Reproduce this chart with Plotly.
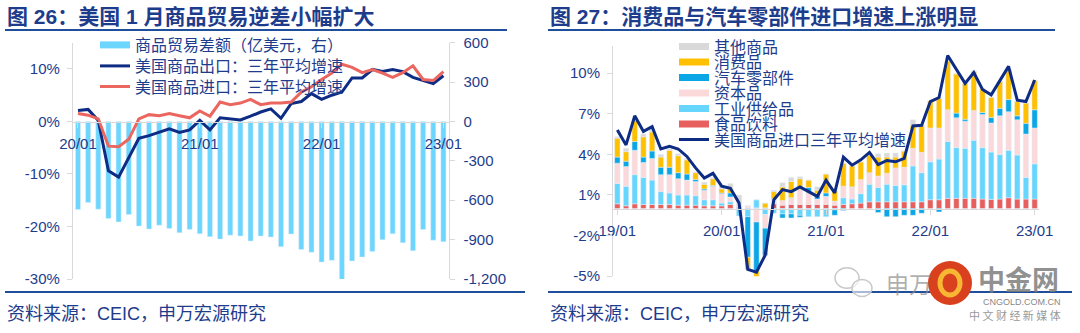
import plotly.graph_objects as go

W, H = 1080, 333
NAVY = "#1e3c8c"
FONT = "Liberation Sans, Noto Sans CJK SC"

# ---------------- Left panel data (2020/01 - 2023/01) ----------------
left_months = [f"{y:02d}/{m:02d}" for y in range(20, 24) for m in range(1, 13)][:37]
left_ticks = ["20/01", "21/01", "22/01", "23/01"]
trade_balance = [-671, -618, -668, -739, -765, -709, -797, -820, -790, -815, -848, -823,
                 -856, -878, -896, -866, -873, -911, -873, -881, -954, -858, -975, -997,
                 -1071, -1058, -1208, -1063, -1033, -990, -901, -856, -924, -985, -823, -904,
                 -916]
export_growth = [2.1, 2.3, 0.2, -9.4, -10.6, -6.9, -3.2, -2.7, -2.1, -1.4, -2.1, -1.6,
                 0.2, -1.6, 0.7, 0.5, 0.3, 1.0, 1.8, 2.4, 0.6, 3.4, 3.8, 5.3,
                 4.2, 5.0, 5.6, 8.3, 8.3, 9.9, 9.5, 9.9, 9.5, 8.4, 7.8, 7.2, 8.7]
import_growth = [1.5, 1.2, 0.5, -4.7, -4.8, -3.4, 0.5, 1.3, 1.1, 1.5, 1.1, 0.7,
                 2.0, 1.0, 3.7, 3.2, 3.5, 4.2, 3.2, 3.5, 3.5, 3.7, 5.6, 6.6,
                 8.0, 9.2, 10.9, 10.3, 9.3, 9.9, 9.2, 8.4, 9.3, 10.6, 8.0, 7.8, 9.5]
left_pct_vals = [-30, -20, -10, 0, 10]
left_pct_text = ["-30%", "-20%", "-10%", "0%", "10%"]
right_amt_vals = [-1200, -900, -600, -300, 0, 300, 600]
right_amt_text = ["-1,200", "-900", "-600", "-300", "0", "300", "600"]

# ---------------- Right panel data (2019/01 - 2023/01) ----------------
right_months = [f"{y:02d}/{m:02d}" for y in range(19, 24) for m in range(1, 13)][:49]
right_ticks = ["19/01", "20/01", "21/01", "22/01", "23/01"]
food = [0.35, 0.2, 0.35, 0.3, 0.3, 0.3, 0.3, 0.25, 0.25, 0.25, 0.2, 0.2,
        0.2, 0.3, 0.1, 0.05, 0.05, 0.05, 0.35, 0.25, 0.3, 0.3, 0.3, 0.3,
        0.3, 0.25, 0.3, 0.35, 0.4, 0.5, 0.5, 0.5, 0.5, 0.5, 0.5, 0.5,
        0.65, 0.65, 0.75, 0.75, 0.75, 0.75, 0.7, 0.67, 0.7, 0.8, 0.7, 0.7, 0.7]
industrial = [1.5, 1.45, 2.15, 2.0, 1.8, 0.95, 0.85, 0.75, 0.75, 0.7, 0.45, 0.45,
              0.2, 0.2, -0.55, -0.6, 0.6, -0.45, -0.35, -0.4, -0.4, -0.5, -0.6, -0.6,
              -0.6, -0.1, 0.5, 0.35, 0.7, 1.3, 1.05, 1.3, 1.2, 1.25, 2.65, 2.15,
              2.8, 3.0, 4.2, 3.75, 3.7, 4.3, 3.8, 3.5, 3.3, 3.5, 3.25, 1.6, 2.6]
capital = [1.5, 1.45, 1.8, 1.1, 1.6, 1.25, 1.35, 1.2, 1.1, 1.05, 0.7, 1.0,
           0.7, 0.35, 0.3, 0.15, -1.0, -1.0, 0.35, 0.35, 0.5, 1.1, 0.9, 0.4,
           0.6, 0.3, 0.85, 0.9, 1.05, 0.85, 0.85, 0.8, 1.3, 1.3, 1.3, 1.5,
           2.5, 2.3, 2.35, 2.2, 2.0, 2.2, 2.45, 2.15, 2.85, 2.85, 2.6, 3.2, 2.65]
autos = [0.45, 0.4, 0.65, 0.4, 0.55, 0.55, 0.55, 0.45, 0.45, 0.15, 0.1, 0.05,
         0.05, 0.3, 0.0, -3.0, -3.6, -2.0, 0.05, -0.3, -0.3, -0.15, 0.35, 0.4,
         0.25, -0.4, -0.15, 0.0, 0.0, 0.0, -0.3, -0.6, -0.6, -0.5, -0.5, -0.35,
         0.0, -0.25, 0.0, 0.35, 0.15, 0.0, 0.15, 0.4, 0.55, 0.9, 0.3, 0.8, 1.35]
consumer = [1.4, 0.7, 1.55, 1.5, 1.4, 0.75, 1.25, 1.25, 1.05, 0.5, 0.35, 0.5,
            0.3, 0.35, 0.0, -0.9, -0.5, 0.35, 0.5, 1.0, 1.2, 0.8, 0.55, 0.25,
            1.4, 0.75, 1.7, 1.55, 1.3, 1.3, 1.4, 1.2, 0.8, 1.2, 1.7, 2.0,
            2.0, 2.2, 3.6, 2.9, 2.65, 2.9, 1.75, 1.5, 2.0, 2.2, 1.05, 1.5, 2.15]
other = [0.1, 0.25, 0.15, 0.2, 0.2, 0.2, 0.1, 0.15, 0.1, 0.05, 0.15, 0.1,
         0.25, 0.35, 0.6, 0.0, 0.0, 0.0, 0.1, 0.3, 0.3, 0.15, 0.0, 0.25,
         0.0, 0.0, 0.0, 0.0, 0.0, 0.0, 0.25, 0.3, 0.3, 0.0, 0.4, 0.0,
         0.0, 0.0, 0.0, 0.0, 0.0, 0.0, 0.0, 0.0, 0.0, 0.0, 0.0, 0.0, 0.0]
imports_3y = [5.8, 4.7, 6.85, 5.7, 6.05, 4.4, 4.6, 4.4, 3.85, 3.0, 2.25, 2.6,
              1.65, 1.5, 0.4, -4.5, -4.7, -3.45, 0.65, 1.4, 1.25, 1.6, 1.25, 0.9,
              2.1, 1.15, 3.8, 3.2, 3.6, 4.15, 3.25, 3.55, 3.45, 3.7, 6.1, 6.15,
              7.9, 8.2, 11.3, 10.25, 9.25, 10.05, 8.8, 8.4, 9.5, 10.5, 8.0, 7.9, 9.5]
right_pct_vals = [-5, -2, 1, 4, 7, 10]
right_pct_text = ["-5%", "-2%", "1%", "4%", "7%", "10%"]

components = [
    ("食品饮料", food, "#e8605e"),
    ("工业供给品", industrial, "#66d6ff"),
    ("资本品", capital, "#fbd9da"),
    ("汽车零部件", autos, "#0ba6e6"),
    ("消费品", consumer, "#ffc000"),
    ("其他商品", other, "#d9d9d9"),
]

# legend rows (one single-entry legend per row, to reproduce the tight spacing)
left_legend_rows = [45, 66, 86.5]
right_legend_rows = {"其他商品": 46.7, "消费品": 62.2, "汽车零部件": 77.7, "资本品": 93.2,
                     "工业供给品": 108.7, "食品饮料": 124.2, "美国商品进口三年平均增速": 139.7}

fig = go.Figure()

# ----- left panel -----
fig.add_trace(go.Bar(x=left_months, y=trade_balance, marker_color="#6dd6ff", width=0.5,
                     xaxis="x", yaxis="y", showlegend=False, name="商品贸易差额（亿美元，右）"))
fig.add_trace(go.Scatter(x=[None], y=[None], mode="lines", line=dict(color="#6dd6ff", width=7),
                         name="商品贸易差额（亿美元，右）", xaxis="x", yaxis="y2",
                         legend="legend"))
fig.add_trace(go.Scatter(x=left_months, y=export_growth, mode="lines",
                         line=dict(color="#0e2c84", width=3), name="美国商品出口：三年平均增速",
                         xaxis="x", yaxis="y2", legend="legend2"))
fig.add_trace(go.Scatter(x=left_months, y=import_growth, mode="lines",
                         line=dict(color="#ec6660", width=3), name="美国商品进口：三年平均增速",
                         xaxis="x", yaxis="y2", legend="legend3"))

# ----- right panel -----
for name, vals, color in components:
    fig.add_trace(go.Bar(x=right_months, y=vals, marker_color=color, width=0.62,
                         xaxis="x2", yaxis="y3", showlegend=False, name=name))
legend_names = {}
for k, name in enumerate(["其他商品", "消费品", "汽车零部件", "资本品", "工业供给品", "食品饮料",
                          "美国商品进口三年平均增速"]):
    legend_names[name] = f"legend{k + 4}"
for name, vals, color in components:
    fig.add_trace(go.Scatter(x=[None], y=[None], mode="lines", line=dict(color=color, width=7),
                             name=name, xaxis="x2", yaxis="y3", legend=legend_names[name]))
fig.add_trace(go.Scatter(x=right_months, y=imports_3y, mode="lines",
                         line=dict(color="#0e2c84", width=3), name="美国商品进口三年平均增速",
                         xaxis="x2", yaxis="y3", legend=legend_names["美国商品进口三年平均增速"]))

tickfont = dict(family=FONT, size=15, color=NAVY)
axis_common = dict(showgrid=False, zeroline=False, showline=True, linecolor="#d9d9d9",
                   linewidth=1, ticks="outside", ticklen=5, tickcolor="#d9d9d9",
                   tickfont=tickfont, automargin=False)

left_zero = 1 - 121.5 / H
right_zero = 1 - 208.5 / H

layout = dict(
    width=W, height=H, margin=dict(l=0, r=0, t=0, b=0, autoexpand=False),
    paper_bgcolor="white", plot_bgcolor="rgba(0,0,0,0)",
    barmode="relative",
    xaxis=dict(domain=[72.9 / W, 448.5 / W], type="category", categoryorder="array",
               categoryarray=left_months, range=[-0.5, 36.5], anchor="free",
               position=left_zero, tickvals=left_ticks, ticklabelstandoff=3,
               **axis_common),
    yaxis=dict(domain=[1 - 279 / H, 1 - 42.7 / H], range=[-1200, 600], side="right",
               anchor="x", tickvals=right_amt_vals, ticktext=right_amt_text,
               ticklabelstandoff=6, **axis_common),
    yaxis2=dict(range=[-30, 15], overlaying="y", side="left", anchor="x",
                tickvals=left_pct_vals, ticktext=left_pct_text, ticklabelstandoff=4,
                **axis_common),
    xaxis2=dict(domain=[613 / W, 1039 / W], type="category", categoryorder="array",
                categoryarray=right_months, range=[-0.5, 48.5], anchor="free",
                position=right_zero, tickvals=right_ticks, ticklabelstandoff=3,
                **axis_common),
    yaxis3=dict(domain=[1 - 276.2 / H, 1 - 46.1 / H], range=[-5, 12], anchor="x2",
                tickvals=right_pct_vals, ticktext=right_pct_text, ticklabelstandoff=4,
                **axis_common),
)
legend_font = dict(family=FONT, size=16, color=NAVY)
for k, yrow in enumerate(left_legend_rows):
    key = "legend" if k == 0 else f"legend{k + 1}"
    layout[key] = dict(x=95 / W, y=1 - yrow / H, xanchor="left", yanchor="middle",
                       bgcolor="rgba(0,0,0,0)", font=legend_font, itemwidth=30)
for name, yrow in right_legend_rows.items():
    layout[legend_names[name]] = dict(x=674 / W, y=1 - yrow / H, xanchor="left",
                                      yanchor="middle", bgcolor="rgba(0,0,0,0)",
                                      font=legend_font, itemwidth=30)
fig.update_layout(**layout)

# titles, rules, sources
annos = [
    dict(text="<b>图 26：美国 1 月商品贸易逆差小幅扩大</b>", x=5 / W, y=1 - 16.5 / H),
    dict(text="<b>图 27：消费品与汽车零部件进口增速上涨明显</b>", x=548 / W, y=1 - 16.5 / H),
]
for a in annos:
    fig.add_annotation(xref="paper", yref="paper", xanchor="left", yanchor="middle",
                       showarrow=False, font=dict(family=FONT, size=21, color=NAVY), **a)
for x0 in (5, 548):
    fig.add_annotation(xref="paper", yref="paper", x=x0 / W, y=1 - 314 / H,
                       xanchor="left", yanchor="middle", showarrow=False,
                       text="资料来源：CEIC，申万宏源研究",
                       font=dict(family=FONT, size=18, color=NAVY))

for (x0, x1, y) in [(5, 507, 30), (548, 1055, 30), (5, 525, 292), (548, 1072, 292)]:
    fig.add_shape(type="line", xref="paper", yref="paper", x0=x0 / W, x1=x1 / W,
                  y0=1 - y / H, y1=1 - y / H, line=dict(color="#1f4e9c", width=2))

# watermark
for (cx, cy, r) in [(847, 278, 12), (862, 288, 10)]:
    fig.add_shape(type="circle", xref="paper", yref="paper", x0=(cx - r) / W, x1=(cx + r) / W,
                  y0=1 - (cy + r * 0.85) / H, y1=1 - (cy - r * 0.85) / H,
                  fillcolor="rgba(255,255,255,0.6)", line=dict(color="#c8c8c8", width=1.5))
fig.add_annotation(xref="paper", yref="paper", x=884 / W, y=1 - 283 / H, xanchor="left",
                   yanchor="middle", showarrow=False, text="申万",
                   font=dict(family="Noto Sans CJK SC", size=23, color="rgba(140,140,140,0.7)"))
fig.add_shape(type="circle", xref="paper", yref="paper", x0=928 / W, x1=972 / W,
              y0=1 - 305 / H, y1=1 - 261 / H, fillcolor="#d9411e", line=dict(width=0))
fig.add_shape(type="circle", xref="paper", yref="paper", x0=940 / W, x1=960 / W,
              y0=1 - 295 / H, y1=1 - 271 / H, fillcolor="rgba(0,0,0,0)",
              line=dict(color="#f7b733", width=5))
fig.add_annotation(xref="paper", yref="paper", x=976 / W, y=1 - 278.5 / H, xanchor="left",
                   yanchor="middle", showarrow=False, text="<b>中金网</b>",
                   font=dict(family="Noto Sans CJK SC", size=27, color="rgba(125,125,125,0.85)"))
fig.add_annotation(xref="paper", yref="paper", x=1063 / W, y=1 - 302 / H, xanchor="right",
                   yanchor="middle", showarrow=False, text="CNGOLD.COM.CN",
                   font=dict(family=FONT, size=9, color="#888888"))
fig.add_annotation(xref="paper", yref="paper", x=1063 / W, y=1 - 315 / H, xanchor="right",
                   yanchor="middle", showarrow=False, text="中 文 财 经 新 媒 体",
                   font=dict(family="Noto Sans CJK SC", size=11, color="#999999"))

fig.write_html("out.html")
